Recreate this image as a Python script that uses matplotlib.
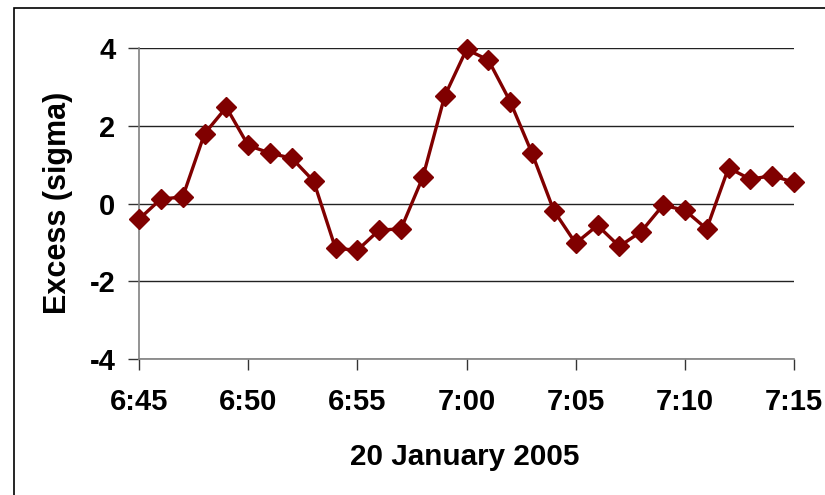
import matplotlib
matplotlib.use("Agg")
import matplotlib.pyplot as plt
from matplotlib.patches import Rectangle

minutes = list(range(31))  # minutes after 6:45
excess = [-0.40, 0.12, 0.17, 1.80, 2.48, 1.50, 1.30, 1.17, 0.58, -1.15,
          -1.20, -0.68, -0.65, 0.68, 2.77, 3.97, 3.70, 2.63, 1.30, -0.18,
          -1.02, -0.56, -1.10, -0.72, -0.04, -0.17, -0.65, 0.92, 0.63, 0.72,
          0.55]
xtick_pos = [0, 5, 10, 15, 20, 25, 30]
xtick_labels = ["6:45", "6:50", "6:55", "7:00", "7:05", "7:10", "7:15"]
ytick_vals = [-4, -2, 0, 2, 4]

plt.rcParams['font.family'] = ['Liberation Sans', 'DejaVu Sans']

fig = plt.figure(figsize=(8.25, 4.95), dpi=100)
ax = fig.add_axes([139/825, 1-359/495, (794-139)/825, (359-48.3)/495])

ax.plot(minutes, excess, color='#800000', lw=2.4, marker='D', ms=10,
        markerfacecolor='#800000', markeredgecolor='#800000', zorder=3,
        clip_on=False)

ax.set_xlim(0, 30)
ax.set_ylim(-4, 4)
ax.set_xticks(xtick_pos)
ax.set_xticklabels(xtick_labels)
ax.set_yticks(ytick_vals)
ax.set_yticklabels([str(v) for v in ytick_vals])

for s in ['top', 'right']:
    ax.spines[s].set_visible(False)
for s in ['left', 'bottom']:
    ax.spines[s].set_color('#808080')
    ax.spines[s].set_linewidth(1.2)

ax.yaxis.grid(True, color='#222222', lw=1.0)
ax.set_axisbelow(True)

ax.tick_params(axis='both', direction='out', length=8, width=1, color='#333333',
               labelsize=21)
ax.tick_params(axis='y', pad=9)
ax.tick_params(axis='x', pad=13)
for lab in ax.get_xticklabels() + ax.get_yticklabels():
    lab.set_fontweight('bold')

fig.text(58/825, 1-203/495, 'Excess (sigma)', rotation=90, ha='center', va='center',
         fontsize=22, fontweight='bold')
fig.text(465/825, 1-457/495, '20 January 2005', ha='center', va='center',
         fontsize=21.3, fontweight='bold')

rect = Rectangle((14.5/825, -0.1), 1.2, 1.1 - 7.5/495, transform=fig.transFigure,
                 fill=False, edgecolor='black', lw=1.2, clip_on=False)
fig.patches.append(rect)

fig.savefig('out.png', dpi=100)
